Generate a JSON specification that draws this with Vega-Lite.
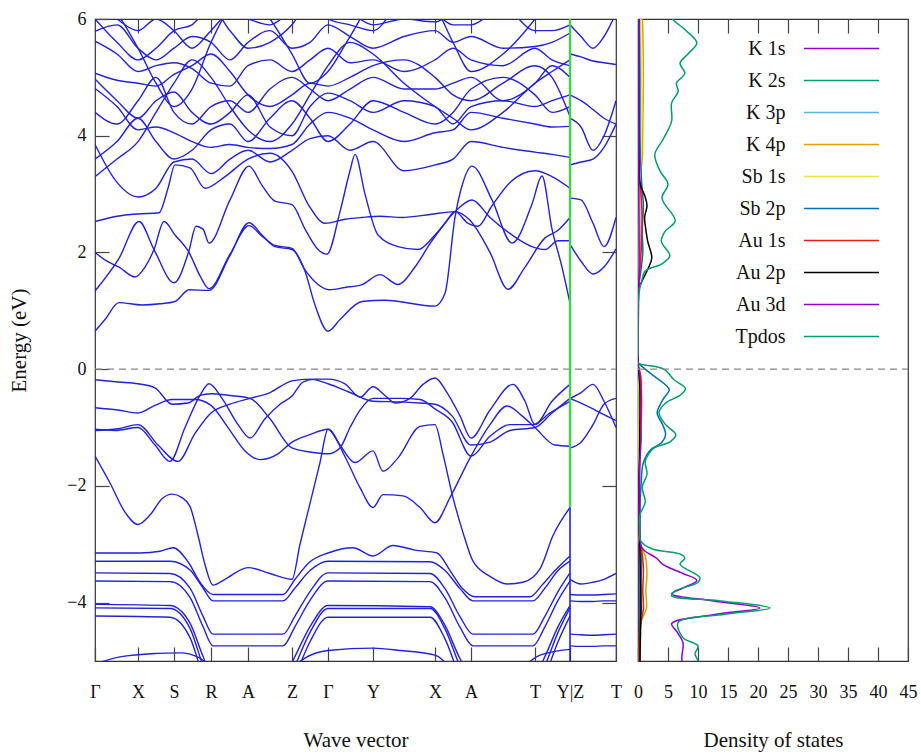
{
"$schema": "https://vega.github.io/schema/vega-lite/v6.json",
"background": "white",
"autosize": {"type": "pad"},
"padding": {"left": 8, "top": 9, "right": 0, "bottom": 2},
"spacing": 22,
"bounds": "flush",
"config": {
  "font": "Liberation Serif",
  "view": {"stroke": "#333", "strokeWidth": 1.2},
  "axis": {"grid": false, "domain": false, "tickColor": "#444", "tickWidth": 1.2, "labelColor": "#111", "titleColor": "#111", "labelFont": "Liberation Serif", "titleFont": "Liberation Serif", "labelFontSize": 18, "titleFontSize": 21, "titleFontWeight": "normal", "labelFlush": false, "labelOverlap": false}
},
"hconcat": [
{
  "width": 521, "height": 642,
  "resolve": {"axis": {"x": "independent", "y": "independent"}},
  "layer": [
    {
      "data": {"values": [
        {"b":"V1","x":[95,118,138,155,172,188,200,211,230,250,270,292,310,328,340,350,360,373,400,420,435,452,471,490,510,533,550,570],"e":[-0.18,-0.22,-0.25,-0.32,-0.6,-0.58,-0.45,-0.42,-0.45,-0.5,-0.85,-1.35,-1.42,-1.45,-1.35,-1.0,-0.7,-0.5,-0.5,-0.52,-0.68,-0.9,-1.49,-1.15,-0.95,-0.95,-0.75,-0.55]},
        {"b":"V2","x":[95,115,138,155,170,185,200,209,222,238,250,265,280,292,303,315,328,345,360,373,385,395,410,423,435,447,460,471,490,513,525,535,552,570],"e":[-1.03,-1.05,-1.0,-1.3,-1.58,-1.0,-0.45,-0.25,-0.5,-0.95,-1.18,-0.85,-0.6,-0.46,-0.22,-0.17,-0.17,-0.25,-0.48,-0.3,-0.45,-0.58,-0.5,-0.26,-0.15,-0.4,-0.8,-1.18,-0.7,-0.26,-0.55,-0.95,-0.55,-0.26]},
        {"b":"V3","x":[95,118,138,155,172,195,211,228,245,260,278,292,310,328,340,355,373,383,398,420,435,443,453,463,473,490,507,523,540,553,570],"e":[-0.66,-0.7,-0.75,-0.62,-0.52,-0.52,-0.62,-1.0,-1.4,-1.55,-1.45,-1.25,-1.12,-1.03,-1.3,-1.6,-1.4,-1.75,-1.52,-0.98,-0.95,-1.46,-2.2,-2.8,-3.29,-3.55,-3.68,-3.65,-3.42,-2.85,-2.37]},
        {"b":"V4","x":[95,118,138,158,178,195,211,230,250,270,292,310,328,350,373,400,420,435,452,471,490,510,535,552,570],"e":[-1.05,-1.02,-0.95,-1.3,-1.58,-1.1,-0.75,-0.6,-0.5,-0.4,-0.2,-0.17,-0.25,-0.4,-0.55,-0.56,-0.58,-0.6,-0.8,-1.3,-1.25,-1.05,-1.0,-0.75,-0.5]},
        {"b":"V5","x":[95,110,125,138,150,162,172,182,190,198,205,213,225,248,270,292,300,310,320,328,345,360,373,383,403,420,435,450,471,490,507,522,535,555,570],"e":[-1.49,-1.95,-2.45,-2.66,-2.5,-2.22,-2.14,-2.2,-2.35,-2.85,-3.35,-3.7,-3.6,-3.4,-3.5,-3.6,-3.0,-2.3,-1.6,-1.03,-1.5,-2.03,-2.37,-2.15,-2.17,-2.37,-2.63,-2.2,-1.49,-0.95,-0.63,-0.8,-1.0,-1.3,-1.32]},
        {"b":"B1","x":[95,140,160,173,188,200,213,283,295,310,328,353,373,393,415,437,450,462,475,530,542,555,570],"e":[-3.15,-3.15,-3.12,-3.06,-3.3,-3.65,-3.86,-3.86,-3.6,-3.3,-3.15,-3.06,-3.2,-3.02,-3.1,-3.15,-3.45,-3.75,-3.9,-3.9,-3.7,-3.45,-3.2]},
        {"b":"G1","x":[95,170,190,203,213,283,295,310,328,430,445,460,473,533,545,558,570],"e":[-3.29,-3.29,-3.44,-3.75,-3.97,-3.97,-3.75,-3.45,-3.29,-3.3,-3.45,-3.76,-3.97,-3.97,-3.75,-3.45,-3.29]},
        {"b":"G2","x":[95,170,190,203,213,283,295,310,328,430,445,460,473,533,545,558,570],"e":[-3.49,-3.5,-3.75,-4.23,-4.54,-4.54,-4.23,-3.81,-3.49,-3.5,-3.76,-4.24,-4.54,-4.54,-4.23,-3.81,-3.49]},
        {"b":"G3","x":[95,170,190,203,213,283,295,310,328,430,445,460,473,533,545,558,570],"e":[-3.63,-3.64,-3.91,-4.41,-4.74,-4.74,-4.41,-3.96,-3.63,-3.64,-3.92,-4.42,-4.74,-4.74,-4.41,-3.96,-3.63]},
        {"b":"G4","x":[95,170,190,203,213,283,295,310,328,430,445,460,473,533,545,558,570],"e":[-4.03,-4.05,-4.35,-4.92,-5.3,-5.3,-4.92,-4.41,-4.05,-4.07,-4.39,-4.96,-5.3,-5.3,-4.92,-4.41,-4.05]},
        {"b":"G5","x":[95,170,190,203,213,283,295,310,328,430,445,460,473,533,545,558,570],"e":[-4.09,-4.1,-4.44,-5.08,-5.5,-5.5,-5.08,-4.51,-4.1,-4.1,-4.45,-5.09,-5.5,-5.5,-5.08,-4.51,-4.09]},
        {"b":"G6","x":[95,170,190,203,213,283,295,310,328,430,445,460,473,533,545,558,570],"e":[-4.23,-4.25,-4.6,-5.26,-5.7,-5.7,-5.26,-4.67,-4.25,-4.25,-4.62,-5.28,-5.7,-5.7,-5.26,-4.67,-4.23]},
        {"b":"G7a","x":[95,120,157,180,200,212],"e":[-5.05,-4.93,-4.87,-4.86,-4.95,-5.15]},
        {"b":"G7b","x":[290,305,328,373,400,435,452],"e":[-5.15,-4.95,-4.82,-4.78,-4.82,-4.9,-5.15]},
        {"b":"G7c","x":[520,540,570],"e":[-5.15,-4.9,-4.8]},
        {"b":"C1","x":[95,105,119,142,160,175,189,209,230,249,262,275,292,305,315,328,340,362,385,435,445,455,463,472,492,512,532,542,552,562,570],"e":[0.65,0.85,1.14,1.1,1.12,1.16,1.36,1.35,1.95,2.51,2.3,2.1,2.05,1.68,1.1,0.65,0.85,1.16,1.18,1.08,1.3,2.6,3.2,3.48,2.9,2.16,2.83,3.31,2.4,1.75,1.13]},
        {"b":"C2","x":[95,119,139,154,174,189,196,203,209,230,249,262,275,292,305,318,327,340,350,355,365,378,398,418,435,455,472,490,512,532,545,558,570],"e":[1.34,1.9,2.53,2.05,1.48,2.03,2.45,2.4,2.16,2.9,3.48,3.15,2.88,2.82,2.4,2.05,1.97,2.7,3.4,3.68,3.0,2.3,2.1,2.05,2.3,2.7,2.9,2.6,2.3,2.1,2.05,2.2,2.2]},
        {"b":"C3","x":[95,107,119,135,145,154,164,175,189,200,209,230,249,262,275,292,305,318,329,345,362,380,398,415,430,445,455,470,490,508,525,545,558,570],"e":[2.0,1.85,1.75,1.58,1.75,2.05,2.53,2.3,2.0,1.6,1.38,1.97,2.46,2.28,2.12,2.07,1.7,1.45,1.36,1.4,1.45,1.62,1.45,1.75,2.15,2.5,2.7,2.55,2.0,1.37,1.75,2.25,2.38,2.6]},
        {"b":"C4","x":[95,117,138,159,168,175,190,205,225,248,270,292,309,325,345,362,380,402,430,455,468,478,492,510,535,552,570],"e":[2.53,2.62,2.66,2.68,3.1,3.5,3.45,3.1,3.3,3.6,3.7,3.39,2.8,2.5,2.57,2.6,2.62,2.6,2.65,2.7,2.5,2.45,2.8,3.2,3.4,3.3,3.1]},
        {"b":"U1","x":[95,117,138,156,174,192,211,230,248,270,292,310,328,350,373,404,435,453,471,503,535,552,570],"e":[3.85,3.2,2.95,3.1,3.55,3.6,3.35,3.6,3.75,3.55,3.75,3.95,4.0,3.75,3.9,3.4,3.5,3.6,3.9,3.8,3.72,3.68,3.63]},
        {"b":"U2","x":[95,117,138,156,174,192,211,230,248,270,292,310,328,350,373,404,435,453,471,503,535,552,570],"e":[4.81,4.5,4.1,4.15,4.05,3.9,3.8,3.85,3.8,3.78,3.85,4.2,4.4,4.3,4.1,3.9,4.05,4.1,4.4,4.3,4.2,4.15,4.16]},
        {"b":"U3","x":[95,117,138,156,174,192,211,230,248,270,292,310,328,350,373,404,435,453,471,503,535,552,570],"e":[4.97,4.6,4.3,4.6,4.75,4.4,4.2,4.4,4.7,4.15,4.0,4.5,4.73,4.6,4.4,4.6,4.5,4.2,4.5,4.6,4.5,4.6,4.7]},
        {"b":"U4","x":[95,117,138,156,174,192,211,230,248,270,292,310,328,350,373,404,435,453,471,503,535,552,570],"e":[5.07,4.95,4.9,4.85,5.05,5.2,5.4,5.1,4.7,4.5,4.7,4.9,4.85,5.0,5.2,5.3,5.0,4.7,4.6,4.9,5.2,5.0,4.33]},
        {"b":"U5","x":[95,117,138,156,174,192,211,230,248,270,292,310,328,350,373,404,435,453,471,503,535,552,570],"e":[5.62,5.4,5.1,5.2,5.25,5.15,4.9,4.85,5.2,5.3,5.1,5.3,5.5,5.25,5.3,5.1,5.3,5.5,5.3,5.2,5.5,5.3,5.2]},
        {"b":"U6","x":[95,117,138,156,174,192,211,230,248,270,292,310,328,350,373,404,435,453,471,503,535,552,570],"e":[5.79,5.9,5.5,5.3,5.5,5.7,5.6,5.3,5.6,5.8,5.5,5.6,5.9,5.7,5.5,5.7,5.8,5.6,5.7,5.5,5.53,5.6,5.76]},
        {"b":"U7","x":[95,117,138,156,174,192,211,230,248,270,292,310,328,350,373,404,435,453,471,503,535,552,570],"e":[6.3,6.0,5.8,6.0,5.8,5.5,5.8,6.1,6.0,5.9,6.1,6.0,6.2,6.1,5.9,6.0,5.95,6.1,6.2,6.0,6.0,6.1,6.3]},
        {"b":"U8","x":[95,117,138,156,174,192,211,230,248,270,292,310,328,350,373,404,435,453,471,503,535,552,570],"e":[3.6,3.9,4.3,3.9,3.6,3.75,4.1,4.2,3.9,4.3,4.6,4.3,3.9,4.2,4.6,4.4,4.2,4.4,4.8,5.0,4.7,4.4,4.5]},
        {"b":"U9","x":[95,117,138,156,174,192,211,230,248,270,292,310,328,350,373,404,435,453,471,503,535,552,570],"e":[4.4,4.2,4.6,5.0,4.4,4.2,4.5,4.6,4.4,4.8,5.0,4.8,4.6,4.8,5.0,4.8,4.8,4.9,5.0,4.6,4.9,5.2,5.0]},
        {"b":"U10","x":[95,117,138,156,174,192,211,230,248,270,292,310,328,350,373,404,435,453,471,503,535,552,570],"e":[6.0,5.6,5.3,5.5,5.8,5.9,6.2,5.8,5.5,5.6,5.9,6.3,6.0,5.9,5.8,6.3,6.1,5.9,5.9,6.2,5.8,5.8,5.9]},
        {"b":"U11","x":[95,117,138,156,174,192,211,230,248,270,292,310,328,350,373,404,435,453,471,503,535,552,570],"e":[6.5,6.1,5.5,4.9,4.5,4.8,5.6,6.2,6.4,6.0,5.4,4.9,5.1,5.7,6.3,6.5,6.2,5.6,5.1,5.4,6.0,6.4,6.5]},
        {"b":"U12","x":[95,117,138,156,174,192,211,230,248,270,292,310,328,350,373,404,435,453,471,503,535,552,570],"e":[3.3,3.6,3.9,4.4,4.9,5.3,5.0,4.5,4.1,3.9,4.2,4.7,5.2,5.6,5.4,4.9,4.5,4.3,4.1,4.4,4.9,5.1,5.3]},
        {"b":"R1","x":[570,581,593,604,616],"e":[2.93,2.9,2.5,2.1,2.6]},
        {"b":"R2","x":[570,581,593,604,616],"e":[2.14,1.85,1.63,1.75,2.06]},
        {"b":"R3","x":[570,581,593,604,616],"e":[3.5,3.55,3.6,3.8,4.2]},
        {"b":"R4","x":[570,581,593,604,616],"e":[4.3,4.15,3.75,4.0,4.6]},
        {"b":"R5","x":[570,581,593,604,616],"e":[4.7,4.6,4.45,4.3,4.2]},
        {"b":"R6","x":[570,581,593,604,616],"e":[5.4,5.35,5.28,5.25,5.22]},
        {"b":"R7","x":[570,581,593,604,616],"e":[5.9,5.7,5.5,5.7,6.1]},
        {"b":"R8","x":[570,581,593,604,616],"e":[-0.5,-0.4,-0.26,-0.55,-1.0]},
        {"b":"R9","x":[570,581,593,604,616],"e":[-0.5,-0.58,-0.68,-0.78,-0.88]},
        {"b":"R10","x":[570,581,593,604,616],"e":[-1.35,-1.25,-0.95,-0.6,-0.5]},
        {"b":"R11","x":[570,581,593,604,616],"e":[-3.6,-3.68,-3.65,-3.6,-3.5]},
        {"b":"R12","x":[570,581,593,604,616],"e":[-3.86,-3.87,-3.87,-3.86,-3.85]},
        {"b":"R13","x":[570,581,593,604,616],"e":[-3.97,-3.98,-3.98,-3.97,-3.97]},
        {"b":"R14","x":[570,581,593,604,616],"e":[-4.54,-4.55,-4.56,-4.55,-4.54]},
        {"b":"R15","x":[570,581,593,604,616],"e":[-4.74,-4.75,-4.75,-4.74,-4.74]}
      ]},
      "transform": [{"flatten": ["x", "e"]}],
      "mark": {"type": "line", "interpolate": "monotone", "clip": true, "strokeWidth": 1.4, "color": "#2222dd"},
      "encoding": {
        "x": {"field": "x", "type": "quantitative", "scale": {"domain": [95, 616], "nice": false, "zero": false},
              "axis": {"orient": "bottom", "values": [95,138,174,211,248,292,328,373,435,471,535,570,616],
                       "labelExpr": "datum.value==95?'Γ':datum.value==138?'X':datum.value==174?'S':datum.value==211?'R':datum.value==248?'A':datum.value==292?'Z':datum.value==328?'Γ':datum.value==373?'Y':datum.value==435?'X':datum.value==471?'A':datum.value==535?'T':datum.value==570?'Y|Z':'T'",
                       "title": "Wave vector", "tickSize": -14, "labelPadding": 36, "titlePadding": 28}},
        "y": {"field": "e", "type": "quantitative", "scale": {"domain": [-5, 6], "nice": false, "zero": false},
              "axis": {"orient": "left", "values": [-4,-2,0,2,4,6], "title": "Energy (eV)", "tickSize": -14, "labelPadding": 23, "titlePadding": 37}},
        "detail": {"field": "b", "type": "nominal"}
      }
    },
    {
      "data": {"values": [{"x": 95, "x2": 616, "e": 0}]},
      "mark": {"type": "rule", "strokeDash": [7, 5], "color": "#888888", "strokeWidth": 1.3},
      "encoding": {
        "x": {"field": "x", "type": "quantitative", "axis": {"orient": "top", "values": [138,174,211,248,292,328,373,435,471,535], "labels": false, "title": null, "tickSize": -14}},
        "x2": {"field": "x2"},
        "y": {"field": "e", "type": "quantitative", "axis": {"orient": "right", "values": [-4,-2,2,4], "labels": false, "title": null, "tickSize": -14}}
      }
    },
    {
      "data": {"values": [{"x": 570, "e": 6, "e2": -2.37}]},
      "mark": {"type": "rule", "color": "#33dd33", "strokeWidth": 2.2},
      "encoding": {
        "x": {"field": "x", "type": "quantitative", "axis": null},
        "y": {"field": "e", "type": "quantitative", "axis": null},
        "y2": {"field": "e2"}
      }
    },
    {
      "data": {"values": [{"x": 570, "e": -2.37, "e2": -5}]},
      "mark": {"type": "rule", "color": "#2222dd", "strokeWidth": 1.6},
      "encoding": {
        "x": {"field": "x", "type": "quantitative", "axis": null},
        "y": {"field": "e", "type": "quantitative", "axis": null},
        "y2": {"field": "e2"}
      }
    }
  ]
},
{
  "width": 270, "height": 642,
  "resolve": {"axis": {"x": "independent", "y": "independent"}},
  "layer": [
    {
      "data": {"values": [
        {"s":"K 1s","e":[6.3,3.0,1.0,0.1,-1.0,-3.5,-4.1,-5.2],"d":[0.1,0.1,0,0,0.1,0.2,0.3,0.2]},
        {"s":"K 2s","e":[6.3,3.0,1.0,0.1,-1.0,-3.5,-4.1,-5.2],"d":[0.15,0.2,0,0,0.15,0.3,0.4,0.3]},
        {"s":"K 3p","e":[6.3,4.0,2.5,1.5,1.0,0.1,-0.5,-1.5,-3.3,-4.0,-5.2],"d":[0.3,0.4,0.5,0.2,0,0,0.4,0.3,0.4,0.5,0.3]},
        {"s":"K 4p","e":[6.3,5.8,5.0,4.2,3.6,3.2,2.5,1.5,1.0,0.1,-0.2,-0.5,-1.5,-2.5,-3.0,-3.2,-3.5,-3.8,-4.1,-4.3,-4.6,-5.2],"d":[0.6,0.8,0.9,0.8,0.7,0.3,0.2,0.1,0,0,0.6,0.3,0.1,0.1,0.3,1.2,1.5,1.3,1.4,0.6,0.3,0.2]},
        {"s":"Sb 1s","e":[6.3,5.5,4.5,3.5,3.0,2.0,1.2,0.1,-0.5,-2.0,-3.3,-4.0,-5.2],"d":[0.4,0.5,0.6,0.5,0.3,0.2,0,0,0.2,0.1,0.4,0.5,0.2]},
        {"s":"Sb 2p","e":[6.3,5.0,4.0,3.2,2.8,2.4,2.0,1.7,1.4,1.0,0.3,0.12,0.07,-0.12,-0.27,-0.35,-0.53,-0.75,-0.95,-1.12,-1.27,-1.38,-1.6,-2.0,-2.5,-2.9,-3.1,-3.3,-3.6,-3.9,-4.1,-4.4,-4.8,-5.2],"d":[0.2,0.3,0.3,0.6,0.9,0.7,0.8,0.5,0.1,0,0,0,0.4,2.7,4.6,5.2,4.1,3.2,4.1,4.6,3.8,2.1,0.9,0.5,0.3,0.3,0.5,0.6,0.5,0.4,0.5,0.3,0.3,0.3]},
        {"s":"Au 1s","e":[6.3,3.5,3.0,2.6,2.2,1.8,1.4,1.0,0.1,-0.1,-0.5,-1.0,-1.5,-2.0,-2.8,-3.1,-3.4,-3.8,-4.1,-4.4,-5.2],"d":[0.05,0.1,0.5,0.7,0.6,0.4,0.05,0,0,0.4,0.6,0.5,0.3,0.1,0.1,0.6,0.9,0.8,0.9,0.4,0.2]},
        {"s":"Au 2p","e":[6.3,4.5,3.6,3.2,3.1,2.95,2.8,2.6,2.4,2.2,1.91,1.75,1.62,1.45,1.35,1.0,0.3,0.1,-0.3,-1.0,-2.0,-3.0,-3.5,-4.0,-4.5,-5.2],"d":[0.1,0.1,0.15,0.3,0.6,1.2,1.5,1.1,1.3,1.6,2.3,1.8,1.2,0.4,0.05,0,0,0,0.3,0.3,0.2,0.3,0.4,0.5,0.4,0.3]},
        {"s":"Au 3d","e":[6.3,4.0,2.0,1.2,0.3,0.1,-0.1,-0.4,-0.8,-1.2,-1.6,-2.0,-2.5,-2.9,-3.05,-3.12,-3.24,-3.35,-3.5,-3.62,-3.75,-3.85,-3.97,-4.09,-4.2,-4.36,-4.5,-4.69,-4.94,-5.2],"d":[0.1,0.1,0.2,0.1,0,0,0.3,0.5,0.4,0.5,0.3,0.2,0.2,0.3,0.6,1.2,3.1,4.2,7.5,9.8,7.5,5.6,12.5,20.3,13.0,5.6,6.5,7.5,7.3,7.5]},
        {"s":"Tpdos","e":[6.3,6.02,5.82,5.59,5.41,5.24,5.07,4.9,4.76,4.56,4.25,3.94,3.68,3.39,3.17,2.93,2.54,2.36,2.19,1.94,1.8,1.68,1.5,1.39,1.17,0.8,0.3,0.11,0.05,-0.01,-0.18,-0.33,-0.44,-0.58,-0.75,-0.95,-1.12,-1.24,-1.35,-1.45,-1.58,-1.8,-2.02,-2.28,-2.5,-2.72,-2.95,-3.08,-3.17,-3.24,-3.34,-3.57,-3.65,-3.8,-3.88,-3.97,-4.09,-4.2,-4.34,-4.6,-4.74,-4.88,-5.0,-5.2],"d":[4.8,5.6,7.8,9.8,8.4,7.0,7.8,6.4,6.7,5.6,5.6,4.2,2.8,3.7,5.0,4.0,6.2,4.5,3.9,5.3,3.9,1.2,0.6,0.3,0.05,0,0,0,2.7,4.5,6.0,7.9,7.1,4.6,3.5,4.6,6.3,5.4,2.7,1.8,1.2,1.5,0.7,1.2,0.3,0.3,0.5,2.4,7.1,7.8,7.0,10.3,10.0,6.2,5.6,13.8,22.0,14.5,6.7,7.5,10.0,9.5,10.0,10.0]}
      ]},
      "transform": [{"flatten": ["e", "d"]}],
      "mark": {"type": "line", "interpolate": "catmull-rom", "clip": true, "strokeWidth": 1.5},
      "encoding": {
        "x": {"field": "d", "type": "quantitative", "scale": {"domain": [0, 45], "nice": false},
              "axis": {"orient": "bottom", "values": [0,5,10,15,20,25,30,35,40,45], "title": "Density of states", "tickSize": -14, "labelPadding": 36, "titlePadding": 28}},
        "y": {"field": "e", "type": "quantitative", "scale": {"domain": [-5, 6], "nice": false, "zero": false}, "axis": null},
        "order": {"field": "e", "type": "quantitative"},
        "color": {"field": "s", "type": "nominal",
                  "scale": {"domain": ["K 1s","K 2s","K 3p","K 4p","Sb 1s","Sb 2p","Au 1s","Au 2p","Au 3d","Tpdos"],
                            "range": ["#9400d3","#009e73","#56b4e9","#e69f00","#f0e442","#0072b2","#e51e10","#000000","#9400d3","#009e73"]},
                  "legend": {"orient": "none", "legendX": 730.5, "legendY": 13.5, "title": null, "symbolType": "M-2.5,0H2.5", "symbolSize": 900, "symbolStrokeWidth": 1.5, "symbolFillColor": "transparent", "labelAlign": "right", "labelOffset": -72, "labelFontSize": 20, "labelFont": "Liberation Serif", "labelColor": "#111", "labelLimit": 0, "rowPadding": 6}}
      }
    },
    {
      "data": {"values": [{"d": 0, "d2": 45, "e": 0}]},
      "mark": {"type": "rule", "strokeDash": [7, 5], "color": "#888888", "strokeWidth": 1.3},
      "encoding": {
        "x": {"field": "d", "type": "quantitative", "axis": {"orient": "top", "values": [5,10,15,20,25,30,35,40], "labels": false, "title": null, "tickSize": -14}},
        "x2": {"field": "d2"},
        "y": {"field": "e", "type": "quantitative", "axis": null}
      }
    }
  ]
}
]
}
